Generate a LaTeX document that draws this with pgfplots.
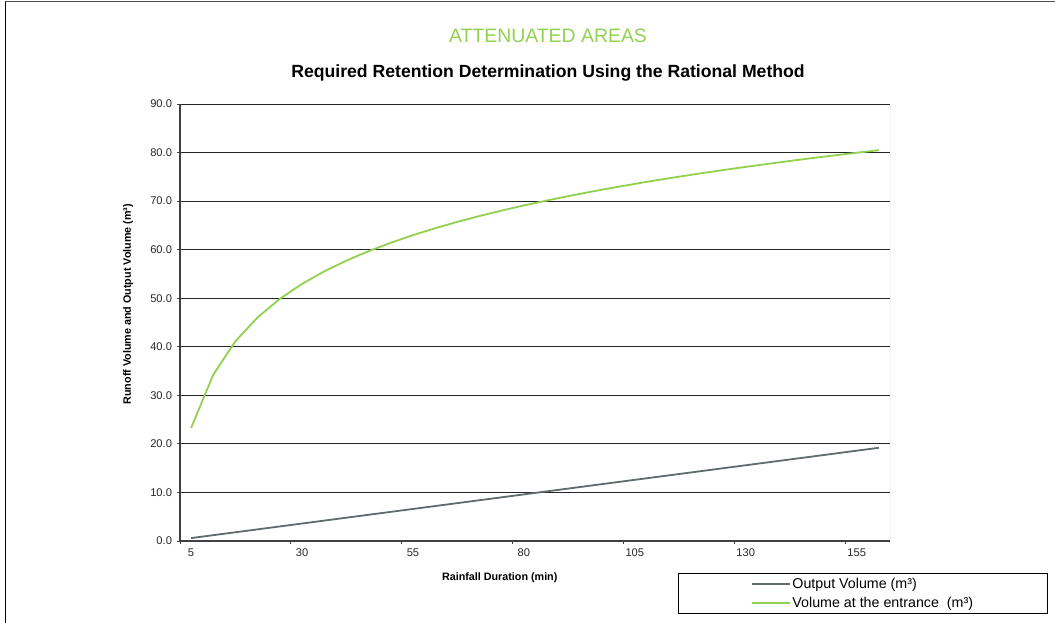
\documentclass[border=0pt]{standalone}
\usepackage{fontspec}
\setmainfont{Liberation Sans}
\usepackage{pgfplots}
\pgfplotsset{compat=1.18}
\definecolor{lgreen}{RGB}{146,208,80}
\definecolor{dgray}{RGB}{95,107,109}
\begin{document}
\begin{tikzpicture}
\useasboundingbox (0bp,0bp) rectangle (1055bp,623bp);
\draw[black, line width=1.2bp] (5.5bp,0bp) -- (5.5bp,621.8bp);
\draw[black!70, line width=1.2bp] (5bp,621.8bp) -- (1055bp,621.8bp);
\node[text=lgreen, font=\fontsize{19.5}{23}\selectfont] at (548bp,587bp) {ATTENUATED AREAS};
\node[font=\bfseries\fontsize{17.7}{21}\selectfont] at (548bp,550bp) {Required Retention Determination Using the Rational Method};
\begin{axis}[at={(180bp,82bp)}, anchor=south west, scale only axis, width=710bp, height=437bp,
 xmin=2.5, xmax=162.5, ymin=0, ymax=90,
 ytick={0,10,...,90}, ymajorgrids, grid style={black!85, line width=0.8bp},
 xtick={2.5,27.5,...,152.5}, xticklabels={},
 extra x ticks={5,30,55,80,105,130,155},
 extra x tick style={major tick length=0pt, grid=none, xticklabel style={yshift=-4.5bp}},
 extra x tick labels={5,30,55,80,105,130,155},
 axis x line*=bottom, axis y line*=left,
 axis line style={-, black!75, line width=1.5bp},
 tick align=outside, major tick length=3.5bp, tick style={black!75, line width=1bp},
 yticklabel style={xshift=-1bp, /pgf/number format/.cd, fixed, fixed zerofill, precision=1},
 /pgf/number format/assume math mode=true,
 ticklabel style={font=\fontsize{11.2}{13}\selectfont, black!85},
 ylabel={Runoff Volume and Output Volume (m³)},
 ylabel style={font=\bfseries\fontsize{10.8}{13}\selectfont, at={(axis description cs:-0.0732,0.542)}, anchor=center},
 xlabel={Rainfall Duration (min)},
 xlabel style={font=\bfseries\fontsize{10.8}{13}\selectfont, at={(axis description cs:0.4503,-0.0847)}, anchor=center},
 legend style={draw=none, fill=none, at={(axis description cs:0.8035,-0.1201)}, anchor=west,
   font=\fontsize{14.3}{15}\selectfont, inner sep=0pt, row sep=3bp},
 legend cell align=left,
 legend image code/.code={\draw[#1] (0bp,0bp) -- (38bp,0bp);},
]
\draw[black!30, line width=0.8bp] (rel axis cs:1,0) -- (rel axis cs:1,1);
\addplot[dgray, line width=1.8bp] table {
x y
5 0.6
10 1.2
15 1.8
20 2.4
25 3.0
30 3.6
35 4.2
40 4.8
45 5.4
50 6.0
55 6.6
60 7.2
65 7.8
70 8.4
75 9.0
80 9.6
85 10.2
90 10.8
95 11.4
100 12.0
105 12.6
110 13.2
115 13.8
120 14.4
125 15.0
130 15.6
135 16.2
140 16.8
145 17.4
150 18.0
155 18.6
160 19.2
};
\addlegendentry{Output Volume (m³)}
\addplot[lgreen, line width=1.8bp] table {
x y
5 23.28
10 34.27
15 41.15
20 46.07
25 49.87
30 52.95
35 55.53
40 57.75
45 59.70
50 61.42
55 62.99
60 64.41
65 65.73
70 66.93
75 68.06
80 69.11
85 70.09
90 71.03
95 71.91
100 72.75
105 73.55
110 74.32
115 75.04
120 75.74
125 76.41
130 77.05
135 77.67
140 78.28
145 78.86
150 79.42
155 79.96
160 80.49
};
\addlegendentry{Volume at the entrance\ \ (m³)}
\end{axis}
\draw[black, line width=1bp] (678bp,49bp) rectangle (1047bp,9bp);
\end{tikzpicture}
\end{document}
